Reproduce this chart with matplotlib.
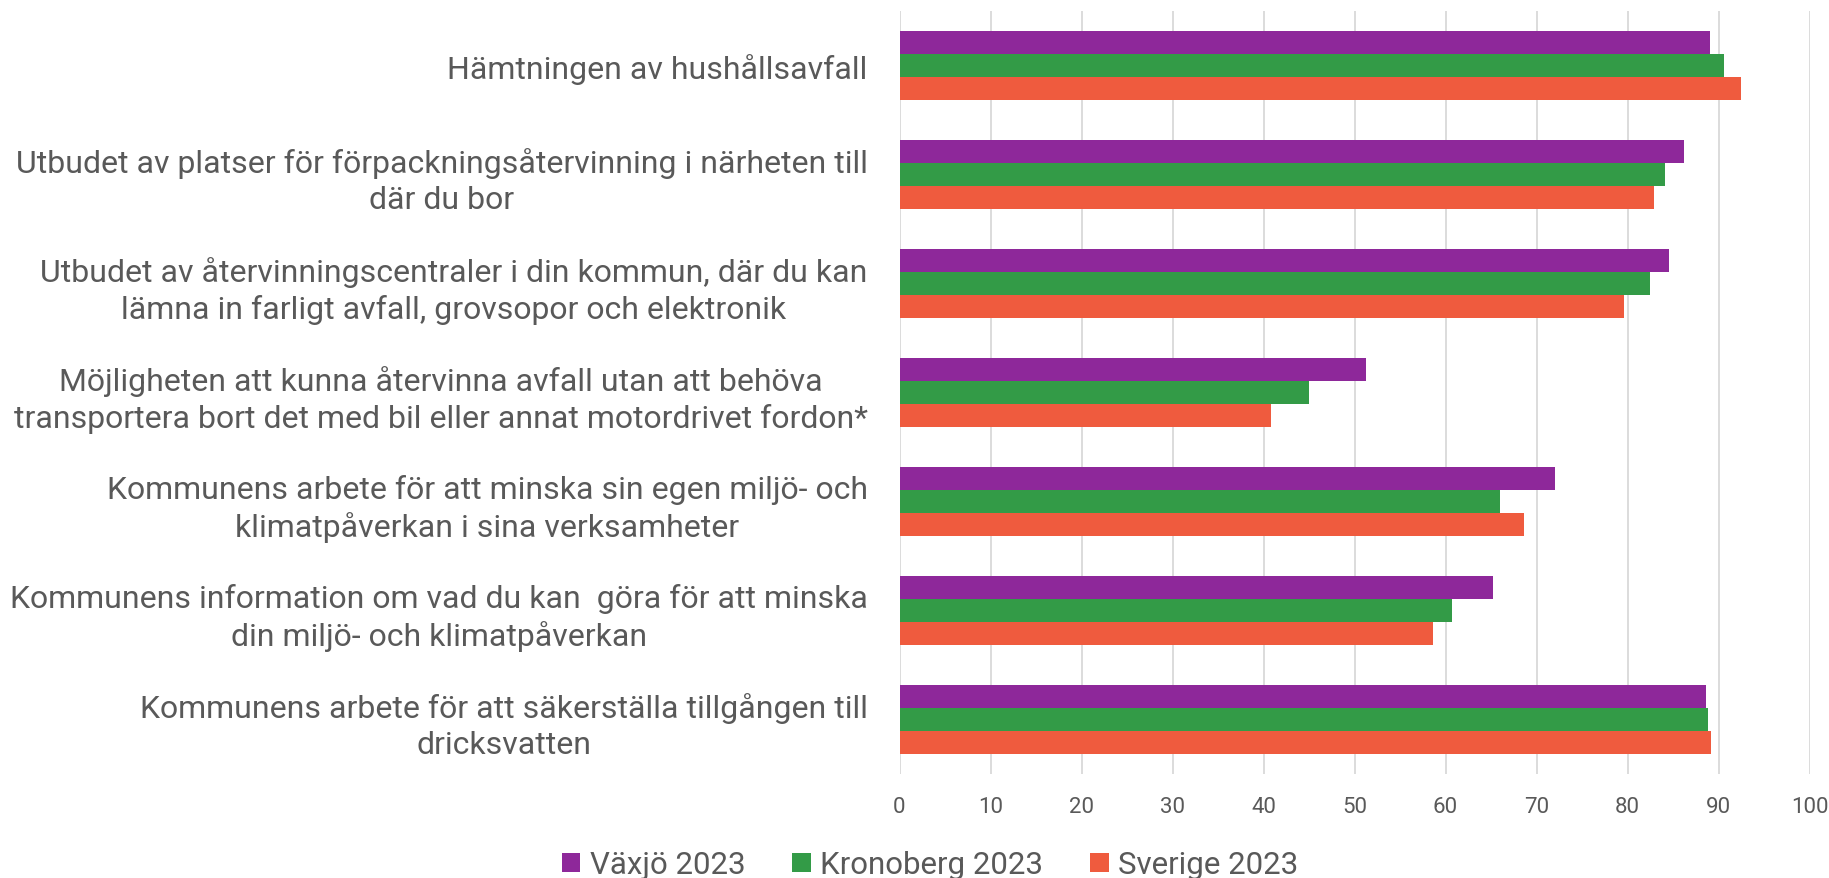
import matplotlib
matplotlib.use("Agg")
import matplotlib.pyplot as plt
import numpy as np
from matplotlib.patches import Patch

plt.rcParams['font.family'] = ['Roboto', 'DejaVu Sans']

categories = [
    "Hämtningen av hushållsavfall",
    "Utbudet av platser för förpackningsåtervinning i närheten till\ndär du bor",
    "Utbudet av återvinningscentraler i din kommun, där du kan\nlämna in farligt avfall, grovsopor och elektronik",
    "Möjligheten att kunna återvinna avfall utan att behöva\ntransportera bort det med bil eller annat motordrivet fordon*",
    "Kommunens arbete för att minska sin egen miljö- och\nklimatpåverkan i sina verksamheter",
    "Kommunens information om vad du kan  göra för att minska\ndin miljö- och klimatpåverkan",
    "Kommunens arbete för att säkerställa tillgången till\ndricksvatten",
]
series_names = ["Växjö 2023", "Kronoberg 2023", "Sverige 2023"]
vaxjo = [89.1, 86.2, 84.6, 51.3, 72.0, 65.2, 88.6]
kronoberg = [90.6, 84.1, 82.5, 45.0, 66.0, 60.7, 88.8]
sverige = [92.5, 82.9, 79.6, 40.8, 68.6, 58.6, 89.2]
xticks = [0, 10, 20, 30, 40, 50, 60, 70, 80, 90, 100]

colors = ["#8E289A", "#339B47", "#EF5B3E"]
text_color = "#595959"

fig = plt.figure(figsize=(18.29, 8.79), dpi=100)
ax = fig.add_axes([899.5 / 1829, 1 - 775 / 879, 910 / 1829, 763 / 879])

y = np.arange(len(categories))
h = 0.208
for i, (vals, c) in enumerate(zip([vaxjo, kronoberg, sverige], colors)):
    ax.barh(y + (i - 1) * h, vals, height=h, color=c, zorder=3)

ax.set_ylim(len(categories) - 0.5, -0.5)
ax.set_xlim(0, 100)
ax.set_xticks(xticks)
ax.set_xticklabels([str(t) for t in xticks])
ax.set_yticks(y)
ax.set_yticklabels(categories, fontsize=23, color=text_color,
                   multialignment='center', linespacing=1.3)
ax.tick_params(axis='y', length=0, pad=23)
ax.tick_params(axis='x', length=0, pad=16, labelsize=16, labelcolor=text_color)
ax.grid(axis='x', color='#D9D9D9', linewidth=1.3, zorder=0)
for s in ax.spines.values():
    s.set_visible(False)

handles = [Patch(facecolor=c, label=n) for c, n in zip(colors, series_names)]
fig.legend(handles=handles, loc='center', bbox_to_anchor=(930 / 1829, 1 - 866 / 879),
           ncol=3, frameon=False, fontsize=22.5, labelcolor=text_color,
           handlelength=0.6, handleheight=0.6, handletextpad=0.3,
           columnspacing=1.5, borderaxespad=0)

fig.savefig("out.png", dpi=100)
